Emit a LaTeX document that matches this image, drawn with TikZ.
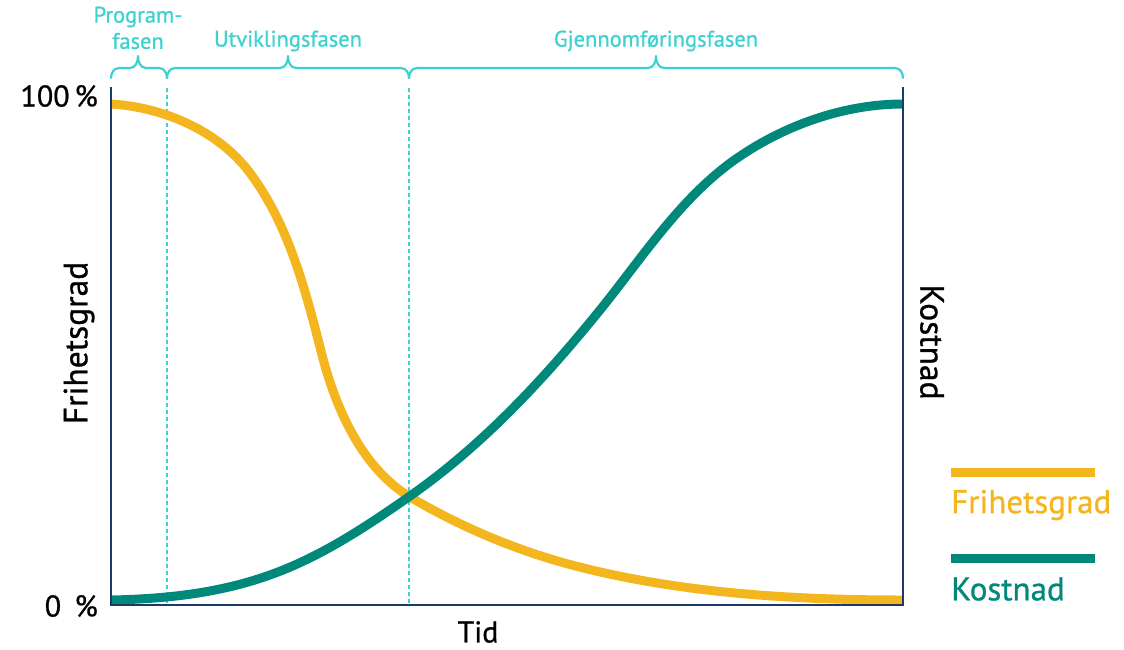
\documentclass[tikz,border=0pt]{standalone}
\usepackage{fontspec}
\setmainfont{PT Sans}[FakeBold=0.8]
\definecolor{axisblue}{HTML}{1B3A6B}
\definecolor{gold}{HTML}{F3B61F}
\definecolor{tealc}{HTML}{00897B}
\definecolor{cyanc}{HTML}{3DD1D1}
\begin{document}
\begin{tikzpicture}[x=1pt,y=-1pt,
  axisline/.style={draw=axisblue,line width=2.2pt},
  phaseline/.style={draw=cyanc,line width=2.3pt,dash pattern=on 4pt off 3pt},
  bracestyle/.style={draw=cyanc,line width=2.2pt,line cap=round,line join=round},
  curve/.style={line width=9pt},
  phaselabel/.style={text=cyanc,font=\fontsize{22.5}{24}\selectfont,inner sep=0pt},
  axislabel/.style={text=black,font=\fontsize{30}{32}\selectfont,inner sep=0pt},
  sidelabel/.style={text=black,font=\fontsize{33.5}{35}\selectfont,inner sep=0pt},
  legendtext/.style={font=\fontsize{33}{35}\selectfont,inner sep=0pt,anchor=west}]
\useasboundingbox (0,0) rectangle (1124,649);
% key coordinates
\coordinate (tl) at (111,87);
\coordinate (bl) at (111,605);
\coordinate (br) at (903,605);
\coordinate (tr) at (903,87);
\coordinate (p1t) at (167,88);
\coordinate (p1b) at (167,605);
\coordinate (p2t) at (409,88);
\coordinate (p2b) at (409,605);
% phase lines
\draw[phaseline] (p1t) -- (p1b);
\draw[phaseline] (p2t) -- (p2b);
% braces
\newcommand{\phasebrace}[3]{%
  \draw[bracestyle] (#1,78) to[out=90,in=180] (#1+8,68) -- (#2-8,68)
     to[out=0,in=-90] (#2,56) to[out=-90,in=180] (#2+8,68) -- (#3-8,68)
     to[out=0,in=90] (#3,78);}
\phasebrace{111}{138}{167}
\phasebrace{167}{288}{409}
\phasebrace{409}{656}{903}
% phase labels
\node[phaselabel] (lprog1) at (138,17) {Program-};
\node[phaselabel] (lprog2) at (138,41) {fasen};
\node[phaselabel] (lutv) at (288,41) {Utviklingsfasen};
\node[phaselabel] (lgjen) at (656,41) {Gjennomføringsfasen};
% curves
\draw[curve,gold] (111,104) .. controls (163,107) and (219,131) .. (250,173)
  .. controls (289,225) and (306,292) .. (322,355)
  .. controls (336,409) and (362,468) .. (410,497)
  .. controls (459,526) and (513,549) .. (568,564)
  .. controls (676,593) and (791,600) .. (903,600);
\draw[curve,tealc] (111,600) .. controls (164,599) and (217,593.5) .. (267,576)
  .. controls (319,558) and (365,527.5) .. (410,496)
  .. controls (483,445) and (544,379) .. (600,310)
  .. controls (642,258) and (679,200) .. (733,161)
  .. controls (782,126) and (843,104) .. (903,104);
% axes
\draw[axisline] (tl) -- (bl) -- (br) -- (tr);
% axis labels
\node[axislabel,anchor=east] (l100) at (98,96) {100\,\%};
\node[axislabel,anchor=east] (l0) at (98,606) {0\hspace{0.45em}\%};
\node[axislabel] (ltid) at (478,632) {Tid};
\node[sidelabel,rotate=90] (lfri) at (79,343) {Frihetsgrad};
\node[sidelabel,rotate=-90] (lkost) at (932,342) {Kostnad};
% legend
\coordinate (g1) at (951,472);
\coordinate (g2) at (1095,472);
\coordinate (t1) at (951,558);
\coordinate (t2) at (1095,558);
\draw[gold,line width=9pt] (g1) -- (g2);
\draw[tealc,line width=9pt] (t1) -- (t2);
\node[legendtext,text=gold] (legf) at (951,505) {Frihetsgrad};
\node[legendtext,text=tealc] (legk) at (951,589) {Kostnad};
\end{tikzpicture}
\end{document}
